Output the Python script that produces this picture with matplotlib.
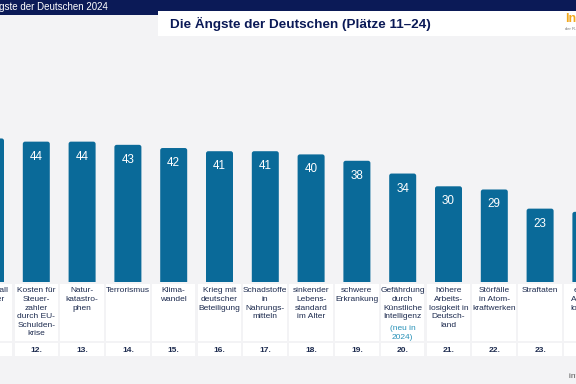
import matplotlib
matplotlib.use("Agg")
import matplotlib.pyplot as plt
from matplotlib.patches import FancyBboxPatch, Rectangle
from matplotlib.transforms import blended_transform_factory

plt.rcParams['font.family'] = ['Liberation Sans', 'DejaVu Sans']

ranks = [11, 12, 13, 14, 15, 16, 17, 18, 19, 20, 21, 22, 23, 24]
values = [45, 44, 44, 43, 42, 41, 41, 40, 38, 34, 30, 29, 23, 22]
labels = [
    "Pflegefall\nim Alter",
    "Kosten für\nSteuer-\nzahler\ndurch EU-\nSchulden-\nkrise",
    "Natur-\nkatastro-\nphen",
    "Terrorismus",
    "Klima-\nwandel",
    "Krieg mit\ndeutscher\nBeteiligung",
    "Schadstoffe\nin\nNahrungs-\nmitteln",
    "sinkender\nLebens-\nstandard\nim Alter",
    "schwere\nErkrankung",
    "Gefährdung\ndurch\nKünstliche\nIntelligenz",
    "höhere\nArbeits-\nlosigkeit in\nDeutsch-\nland",
    "Störfälle\nin Atom-\nkraftwerken",
    "Straftaten",
    "eigene\nArbeits-\nlosigkeit",
]
notes = {20: "(neu in\n2024)"}
rank_labels = [f"{r}." for r in ranks]

title = "Die Ängste der Deutschen (Plätze 11–24)"
band_text = "Die Ängste der Deutschen 2024"

W, H = 576, 384
BG = "#f3f3f5"
NAVY = "#0b1a57"
BAR = "#0a6a99"
TXT = "#1d2b4f"
TEAL = "#2a92b8"

fig = plt.figure(figsize=(W / 100, H / 100), dpi=100, facecolor=BG)

def fy(py):
    return 1 - py / H

def fx(px):
    return px / W

# top band and title box
fig.patches.append(Rectangle((0, fy(15)), 1, 15 / H, transform=fig.transFigure,
                             facecolor=NAVY, edgecolor="none", zorder=0))
fig.patches.append(Rectangle((fx(158), fy(36)), 1 - fx(158), 25 / H, transform=fig.transFigure,
                             facecolor="white", edgecolor="none", zorder=1))
fig.text(fx(108), fy(7), band_text, color="white", fontsize=7, ha="right", va="center")
fig.text(fx(170), fy(23.5), title, color=NAVY, fontsize=9.7, fontweight="bold",
         ha="left", va="center", zorder=3)
fig.text(fx(565), fy(19), "Infocenter", color="#f2a81d", fontsize=9, fontweight="bold",
         ha="left", va="center", zorder=3)
fig.text(fx(565), fy(29), "der R+V Versicherung", color="#777777", fontsize=3,
         ha="left", va="center", zorder=3)
fig.text(fx(569), fy(377), "infocenter der R+V", color="#555555", fontsize=6,
         ha="left", va="center")

# bar axes
base_px = 282
unit_px = 3.19
top_px = 40
ax = fig.add_axes([0, fy(base_px), 1, (base_px - top_px) / H])
ax.set_facecolor("none")
step = 45.8
c12 = 36.3
ax.set_xlim(12 - c12 / step, 12 + (W - c12) / step)
ax.set_ylim(0, (base_px - top_px) / unit_px)
ax.axis("off")

bw = 27 / step
aspect = step / unit_px
for r, v in zip(ranks, values):
    p = FancyBboxPatch((r - bw / 2, -2), bw, v + 2,
                       boxstyle="round,pad=0,rounding_size=0.05",
                       mutation_aspect=aspect, facecolor=BAR, edgecolor="none")
    ax.add_patch(p)
    ax.annotate(str(v), (r, v), xytext=(0, -10.8), textcoords="offset points",
                ha="center", va="center", color="white", fontsize=8.4)

# label boxes and rank row
tr = blended_transform_factory(ax.transData, fig.transFigure)
boxw = 43.6 / step
LS = 1.31
pitch = 9.5
for r, lab, rl in zip(ranks, labels, rank_labels):
    fig.patches.append(Rectangle((r - boxw / 2, fy(341)), boxw, (341 - 284) / H, transform=tr,
                                 facecolor="white", edgecolor="none"))
    fig.patches.append(Rectangle((r - boxw / 2, fy(356)), boxw, (356 - 343) / H, transform=tr,
                                 facecolor="white", edgecolor="none"))
    fig.text(r, fy(287.5), lab, transform=tr, ha="center", va="top", color=TXT,
             fontsize=6.0, linespacing=LS)
    if r in notes:
        nlines = lab.count("\n") + 1
        fig.text(r, fy(287.5 + nlines * pitch), notes[r], transform=tr, ha="center", va="top",
                 color=TEAL, fontsize=6.0, linespacing=LS)
    fig.text(r, fy(350), rl, transform=tr, ha="center", va="center", color=TXT,
             fontsize=6.0, fontweight="bold")

fig.savefig("out.png", dpi=100, facecolor=BG)
